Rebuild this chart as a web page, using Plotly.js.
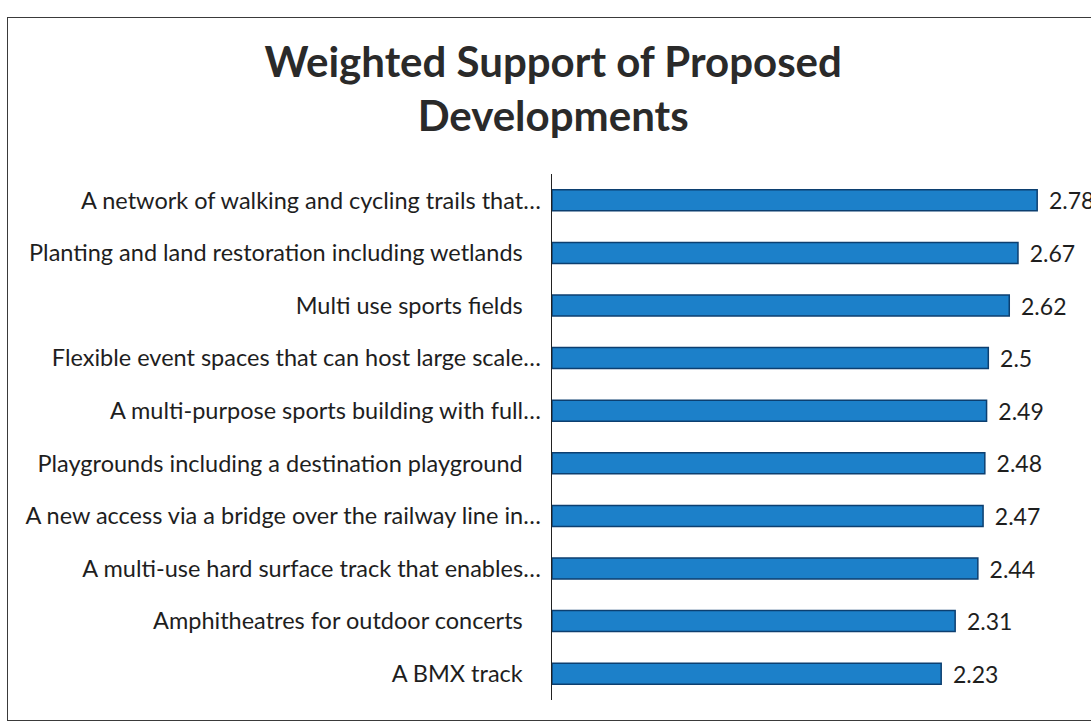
<!DOCTYPE html>
<html>
<head>
<meta charset="utf-8">
<script src="https://cdn.plot.ly/plotly-3.0.1.min.js"></script>
<style>
  html, body { margin: 0; padding: 0; background: #ffffff; overflow: hidden; }
  #frame { position: absolute; left: 7px; top: 17px; width: 1100px; height: 704px;
           border: 1.5px solid #3a3a3a; border-right: none; box-sizing: border-box; }
  #chart { position: absolute; left: 0; top: 0; width: 1091px; height: 724px; }
</style>
</head>
<body>
<div id="frame"></div>
<div id="chart"></div>
<script>
const categories = [
  "A network of walking and cycling trails that…",
  "Planting and land restoration including wetlands\u00a0\u00a0\u00a0",
  "Multi use sports fields\u00a0\u00a0\u00a0",
  "Flexible event spaces that can host large scale…",
  "A multi-purpose sports building with full…",
  "Playgrounds including a destination playground\u00a0\u00a0\u00a0",
  "A new access via a bridge over the railway line in…",
  "A multi-use hard surface track that enables…",
  "Amphitheatres for outdoor concerts\u00a0\u00a0\u00a0",
  "A BMX track\u00a0\u00a0\u00a0"
];
const values = [2.78, 2.67, 2.62, 2.5, 2.49, 2.48, 2.47, 2.44, 2.31, 2.23];
const chartTitle = "Weighted Support of Proposed<br>Developments";

const trace = {
  type: "bar",
  orientation: "h",
  y: categories,
  x: values,
  text: values.map(v => "\u00a0\u2009" + v),
  textposition: "outside",
  constraintext: "none",
  cliponaxis: false,
  textfont: { family: "Lato, 'Open Sans', sans-serif", size: 23, color: "#1e1e1e" },
  marker: { color: "#1c80c9", line: { color: "#0c3f70", width: 1.5 } },
  hoverinfo: "x+y"
};

const layout = {
  width: 1091,
  height: 724,
  paper_bgcolor: "rgba(0,0,0,0)",
  plot_bgcolor: "rgba(0,0,0,0)",
  margin: { l: 552, r: 6, t: 174, b: 24 },
  bargap: 0.6,
  showlegend: false,
  title: {
    text: chartTitle,
    font: { family: "Lato, 'Open Sans', sans-serif", size: 42, color: "#2a2a2a", weight: 700 },
    xref: "container", x: 0.507, xanchor: "center",
    yref: "container", y: 0.894, yanchor: "top"
  },
  xaxis: {
    range: [0, 3.054],
    showgrid: false, zeroline: false, showline: false,
    showticklabels: false, ticks: ""
  },
  yaxis: {
    type: "category",
    autorange: "reversed",
    showgrid: false, zeroline: false,
    showline: true, linecolor: "#222222", linewidth: 1.5,
    ticks: "", ticklabelstandoff: 5,
    tickfont: { family: "Lato, 'Open Sans', sans-serif", size: 23.5, color: "#1e1e1e" }
  }
};

Plotly.newPlot("chart", [trace], layout, { displayModeBar: false, staticPlot: true });
</script>
</body>
</html>
